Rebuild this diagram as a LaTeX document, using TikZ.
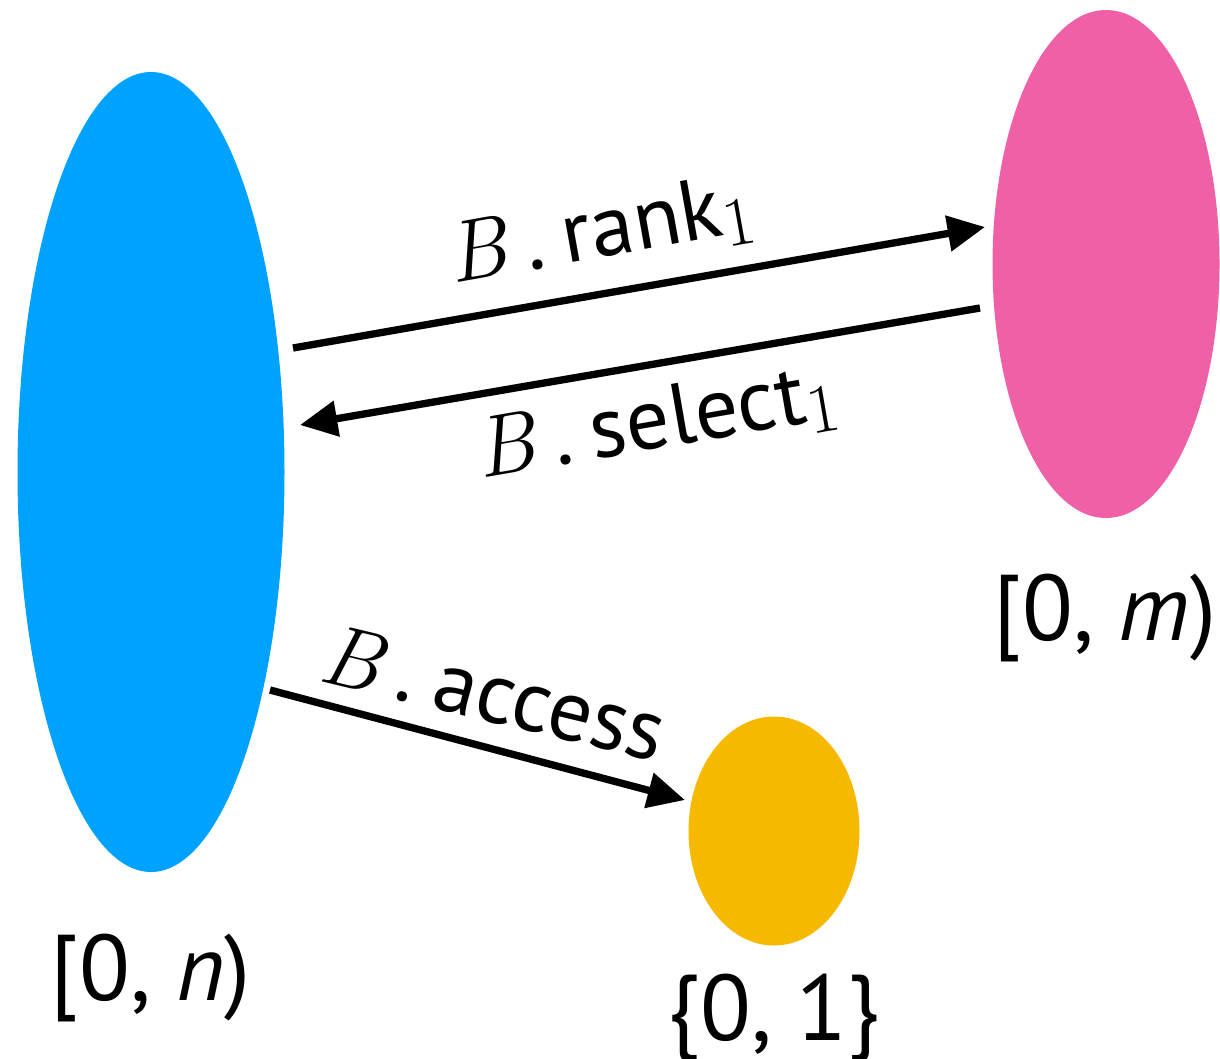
\documentclass[tikz,border=0pt]{standalone}
\usepackage{fontspec}
\setmainfont{PT Sans}
\usetikzlibrary{arrows.meta,calc,shapes.geometric}
\definecolor{setblue}{RGB}{0,162,255}
\definecolor{setpink}{RGB}{239,96,167}
\definecolor{setgold}{RGB}{246,185,0}
\newcommand\romanfam{\fontfamily{lmr}\selectfont}
\newcommand\opB{{\romanfam\itshape B}\hspace{0.22em}.\hspace{0.22em}}
\newcommand\subone{\raisebox{-0.14em}{\romanfam\fontsize{52}{56}\selectfont 1}}
\begin{document}
\begin{tikzpicture}[x=0.75pt,y=-0.75pt,
  blob/.style={ellipse, inner sep=0pt, draw=none},
  link/.style={line width=5.5pt, -{Triangle[length=28pt,width=26pt]}},
  lab/.style={inner sep=0pt, anchor=base west, font=\fontsize{65}{72}\selectfont},
  setlab/.style={inner sep=0pt, anchor=base, font=\fontsize{70}{80}\selectfont}]
\useasboundingbox (0,0) rectangle (1220,1058);
% the three sets
\node[blob, fill=setblue, minimum width=200.25pt, minimum height=600pt] (dom) at (151,472) {};
\node[blob, fill=setpink, minimum width=170.25pt, minimum height=381pt] (img) at (1106,264) {};
\node[blob, fill=setgold, minimum width=128.25pt, minimum height=171.75pt] (bit) at (774,831) {};
% maps between them
\draw[link] ($(dom.center)+(142,-124)$) -- ($(img.center)+(-121,-37)$);
\draw[link] ($(img.center)+(-126,44)$) -- ($(dom.center)+(149,-47)$);
\draw[link] ($(dom.center)+(119,218)$) -- ($(bit.center)+(-89,-31)$);
% arrow labels
\node[lab, rotate=10.1] (rk) at (452,284) {\opB rank\subone};
\node[lab, rotate=9.8] (sl) at (480,479) {\opB select\subone};
\node[lab, rotate=-13.5] (ac) at (316,680) {\opB access};
% set labels
\node[setlab] (ln) at (151,1000) {[0, \textit{n})};
\node[setlab] (lm) at (1105,640) {[0, \textit{m})};
\node[setlab] (lb) at (774,1040) {\{0, 1\}};
\end{tikzpicture}
\end{document}
